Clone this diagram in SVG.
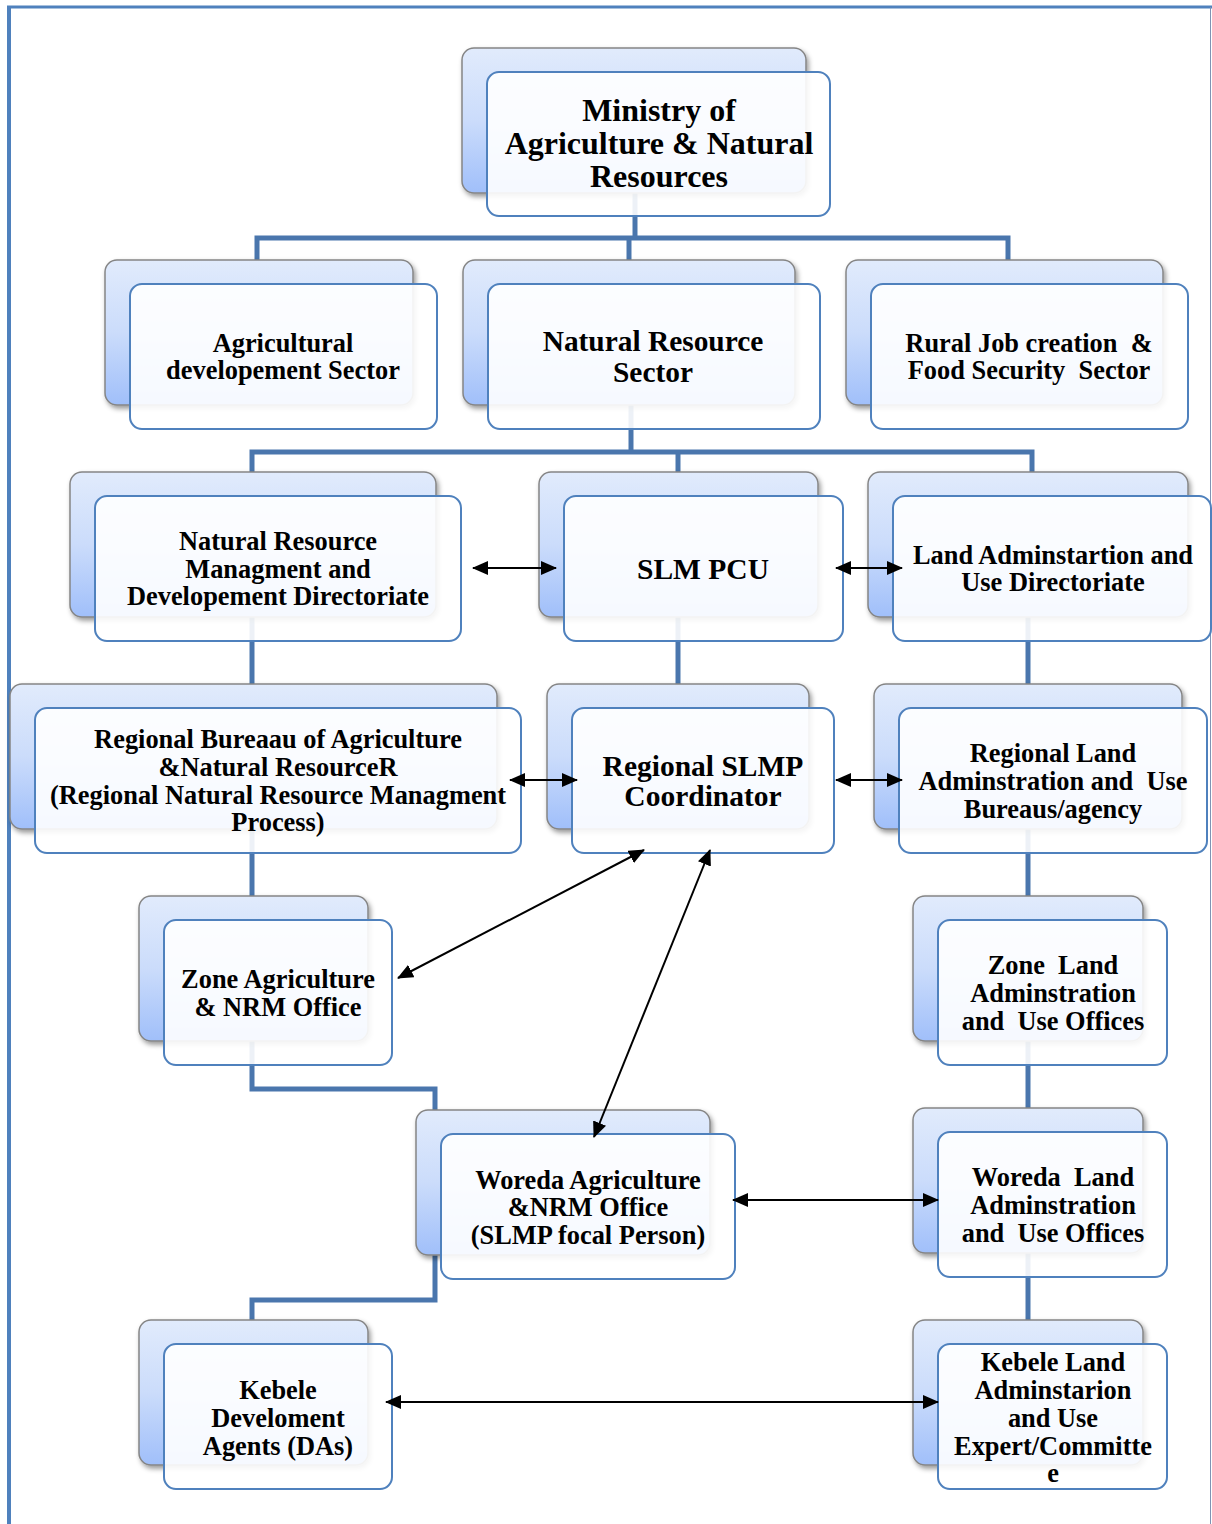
<svg xmlns="http://www.w3.org/2000/svg" width="1212" height="1524" viewBox="0 0 1212 1524">
<style>
.back{fill:url(#g);stroke:#858585;stroke-width:1.5;filter:url(#sh)}
.front{fill:#ffffff;fill-opacity:0.9;stroke:#4f81bd;stroke-width:2}
.conn{fill:none;stroke:#4a76ad;stroke-width:5;stroke-linejoin:miter}
.arr{fill:none;stroke:#000;stroke-width:2;marker-start:url(#ah);marker-end:url(#ah)}
text{font-family:"Liberation Serif","Times New Roman",serif;font-weight:bold;fill:#000;text-anchor:middle}
.t24{font-size:26.4px}.t27{font-size:29.4px}.t28{font-size:29.5px}.t31{font-size:32px}
</style>
<defs>
<linearGradient id="g" x1="0" y1="0" x2="0" y2="1">
<stop offset="0" stop-color="#e1ebfc"/><stop offset="0.5" stop-color="#cbdcfb"/><stop offset="1" stop-color="#a0bffa"/>
</linearGradient>
<filter id="sh" x="-10%" y="-10%" width="130%" height="130%">
<feDropShadow dx="2" dy="3" stdDeviation="2.5" flood-color="#000" flood-opacity="0.4"/>
</filter>
<marker id="ah" viewBox="0 0 16 14" refX="15" refY="7" markerWidth="16" markerHeight="14" markerUnits="userSpaceOnUse" orient="auto-start-reverse">
<path d="M0,0 L16,7 L0,14 Z" fill="#000"/>
</marker>
</defs>
<rect width="1212" height="1524" fill="#fff"/>
<g id="page-border">
<line x1="9" y1="6" x2="9" y2="1524" stroke="#4f81bd" stroke-width="4"/>
<line x1="7" y1="7" x2="1212" y2="7" stroke="#4f81bd" stroke-width="3"/>
<line x1="1210.5" y1="7" x2="1210.5" y2="1524" stroke="#7f93b3" stroke-width="1"/>
</g>
<g id="connectors">
<polyline class="conn" points="635,193 635,238"/>
<polyline class="conn" points="257,260 257,238 1008,238 1008,260"/>
<polyline class="conn" points="629,238 629,260"/>
<polyline class="conn" points="631,405 631,452"/>
<polyline class="conn" points="252,472 252,452 1032,452 1032,472"/>
<polyline class="conn" points="678,452 678,472"/>
<polyline class="conn" points="252,617 252,684"/>
<polyline class="conn" points="678,617 678,684"/>
<polyline class="conn" points="1028,617 1028,684"/>
<polyline class="conn" points="252,829 252,896"/>
<polyline class="conn" points="1028,829 1028,896"/>
<polyline class="conn" points="252,1041 252,1089 435,1089 435,1110"/>
<polyline class="conn" points="435,1255 435,1300 252,1300 252,1320"/>
<polyline class="conn" points="1028,1041 1028,1108"/>
<polyline class="conn" points="1028,1253 1028,1320"/>
</g>
<g id="n-ministry"><rect class="back" x="462" y="48" width="344" height="145" rx="12"/><rect class="front" x="487" y="72" width="343" height="144" rx="12"/>
<text class="t31" x="659" y="121">Ministry of</text><text class="t31" x="659" y="154">Agriculture &amp; Natural</text><text class="t31" x="659" y="187">Resources</text></g>
<g id="n-agri"><rect class="back" x="105" y="260" width="308" height="145" rx="12"/><rect class="front" x="130" y="284" width="307" height="145" rx="12"/>
<text class="t24" x="283" y="352">Agricultural</text><text class="t24" x="283" y="379">developement Sector</text></g>
<g id="n-nrs"><rect class="back" x="463" y="260" width="332" height="145" rx="12"/><rect class="front" x="488" y="284" width="332" height="145" rx="12"/>
<text class="t27" x="653" y="351">Natural Resource</text><text class="t27" x="653" y="382">Sector</text></g>
<g id="n-rural"><rect class="back" x="846" y="260" width="317" height="145" rx="12"/><rect class="front" x="871" y="284" width="317" height="145" rx="12"/>
<text class="t24" x="1029" y="352" xml:space="preserve">Rural Job creation  &amp;</text><text class="t24" x="1029" y="379" xml:space="preserve">Food Security  Sector</text></g>
<g id="n-nrmd"><rect class="back" x="70" y="472" width="366" height="145" rx="12"/><rect class="front" x="95" y="496" width="366" height="145" rx="12"/>
<text class="t24" x="278" y="550">Natural Resource</text><text class="t24" x="278" y="578">Managment and</text><text class="t24" x="278" y="605">Developement Directoriate</text></g>
<g id="n-slmpcu"><rect class="back" x="539" y="472" width="279" height="145" rx="12"/><rect class="front" x="564" y="496" width="279" height="145" rx="12"/>
<text class="t28" x="703" y="579">SLM PCU</text></g>
<g id="n-ladmin"><rect class="back" x="868" y="472" width="320" height="145" rx="12"/><rect class="front" x="893" y="496" width="318" height="145" rx="12"/>
<text class="t24" x="1053" y="564">Land Adminstartion and</text><text class="t24" x="1053" y="591">Use Directoriate</text></g>
<g id="n-regbureau"><rect class="back" x="10" y="684" width="487" height="145" rx="12"/><rect class="front" x="35" y="708" width="486" height="145" rx="12"/>
<text class="t24" x="278" y="748">Regional Bureaau of Agriculture</text><text class="t24" x="278" y="776">&amp;Natural ResourceR</text><text class="t24" x="278" y="804">(Regional Natural Resource Managment</text><text class="t24" x="278" y="831">Process)</text></g>
<g id="n-regslmp"><rect class="back" x="547" y="684" width="262" height="145" rx="12"/><rect class="front" x="572" y="708" width="262" height="145" rx="12"/>
<text class="t28" x="703" y="776">Regional SLMP</text><text class="t28" x="703" y="806">Coordinator</text></g>
<g id="n-regland"><rect class="back" x="874" y="684" width="308" height="145" rx="12"/><rect class="front" x="899" y="708" width="308" height="145" rx="12"/>
<text class="t24" x="1053" y="762">Regional Land</text><text class="t24" x="1053" y="790" xml:space="preserve">Adminstration and  Use</text><text class="t24" x="1053" y="818">Bureaus/agency</text></g>
<g id="n-zoneag"><rect class="back" x="139" y="896" width="229" height="145" rx="12"/><rect class="front" x="164" y="920" width="228" height="145" rx="12"/>
<text class="t24" x="278" y="988">Zone Agriculture</text><text class="t24" x="278" y="1016">&amp; NRM Office</text></g>
<g id="n-zoneland"><rect class="back" x="913" y="896" width="230" height="145" rx="12"/><rect class="front" x="938" y="920" width="229" height="145" rx="12"/>
<text class="t24" x="1053" y="974" xml:space="preserve">Zone  Land</text><text class="t24" x="1053" y="1002">Adminstration</text><text class="t24" x="1053" y="1030" xml:space="preserve">and  Use Offices</text></g>
<g id="n-woredaag"><rect class="back" x="416" y="1110" width="294" height="145" rx="12"/><rect class="front" x="441" y="1134" width="294" height="145" rx="12"/>
<text class="t24" x="588" y="1189">Woreda Agriculture</text><text class="t24" x="588" y="1216">&amp;NRM Office</text><text class="t24" x="588" y="1244">(SLMP focal Person)</text></g>
<g id="n-woredaland"><rect class="back" x="913" y="1108" width="230" height="145" rx="12"/><rect class="front" x="938" y="1132" width="229" height="145" rx="12"/>
<text class="t24" x="1053" y="1186" xml:space="preserve">Woreda  Land</text><text class="t24" x="1053" y="1214">Adminstration</text><text class="t24" x="1053" y="1242" xml:space="preserve">and  Use Offices</text></g>
<g id="n-kebeleda"><rect class="back" x="139" y="1320" width="229" height="145" rx="12"/><rect class="front" x="164" y="1344" width="228" height="145" rx="12"/>
<text class="t24" x="278" y="1399">Kebele</text><text class="t24" x="278" y="1427">Develoment</text><text class="t24" x="278" y="1455">Agents (DAs)</text></g>
<g id="n-kebeleland"><rect class="back" x="913" y="1320" width="230" height="145" rx="12"/><rect class="front" x="938" y="1344" width="229" height="145" rx="12"/>
<text class="t24" x="1053" y="1371">Kebele Land</text><text class="t24" x="1053" y="1399">Adminstarion</text><text class="t24" x="1053" y="1427">and Use</text><text class="t24" x="1053" y="1455">Expert/Committe</text><text class="t24" x="1053" y="1482">e</text></g>
<g id="arrows">
<line class="arr" x1="473" y1="568" x2="556" y2="568"/>
<line class="arr" x1="836" y1="568" x2="902" y2="568"/>
<line class="arr" x1="510" y1="780" x2="577" y2="780"/>
<line class="arr" x1="836" y1="780" x2="902" y2="780"/>
<line class="arr" x1="398" y1="978" x2="644" y2="850"/>
<line class="arr" x1="594" y1="1137" x2="710" y2="850"/>
<line class="arr" x1="733" y1="1200" x2="938" y2="1200"/>
<line class="arr" x1="386" y1="1402" x2="938" y2="1402"/>
</g>
</svg>
